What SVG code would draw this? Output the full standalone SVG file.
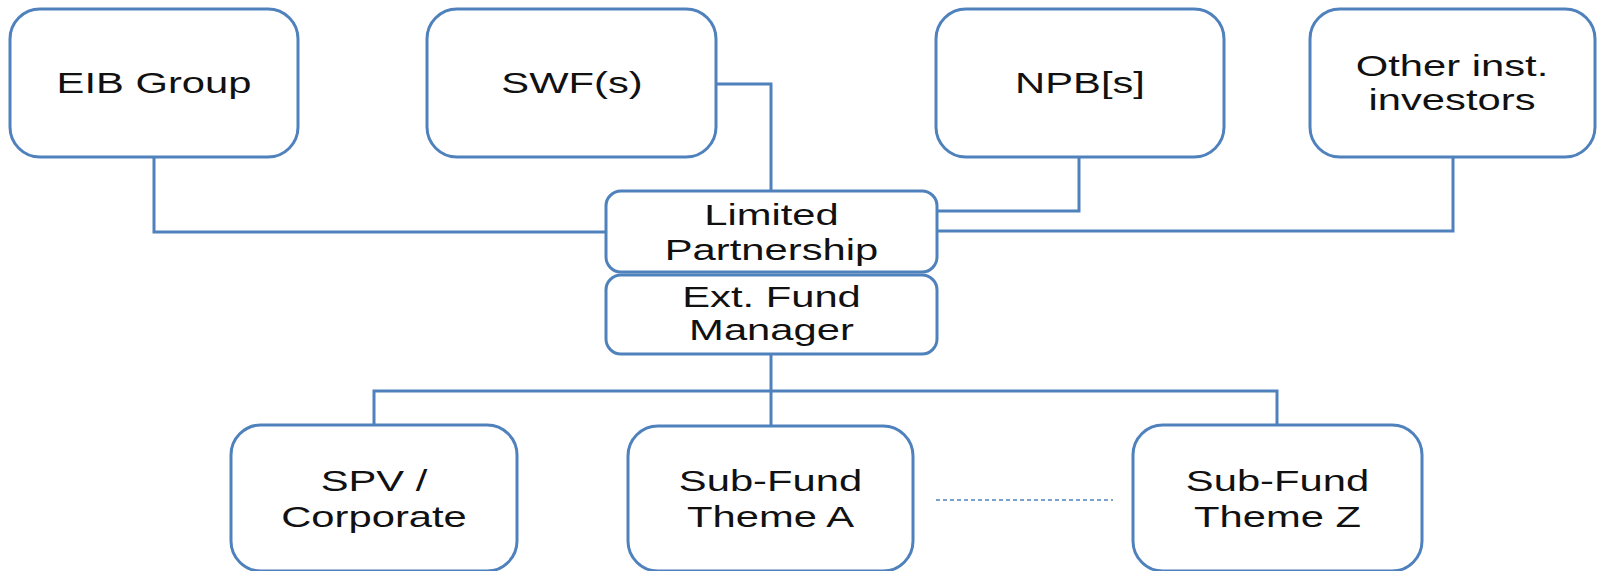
<svg xmlns="http://www.w3.org/2000/svg" width="1597" height="571" viewBox="0 0 1597 571">
<style>
.box{fill:#fff;stroke:#4F81BD;stroke-width:3}
.lbl{font-family:"Liberation Sans",Arial,sans-serif;font-size:29px;fill:#111;text-anchor:middle}
.conn{fill:none;stroke:#4F81BD;stroke-width:3}
.dash{fill:none;stroke:#4F81BD;stroke-width:1.3;stroke-dasharray:4 3}
</style>
<rect width="1597" height="571" fill="#fff"/>
<g id="connectors">
<path class="conn" d="M154 157 V232 H606"/>
<path class="conn" d="M716 84 H771 V191"/>
<path class="conn" d="M1079 157 V211 H937"/>
<path class="conn" d="M1453 157 V231 H937"/>
<path class="conn" d="M771 354 V426"/>
<path class="conn" d="M374 425 V391 H1277 V425"/>
<path class="dash" d="M936 500 H1113"/>
</g>
<g id="eib">
<rect class="box" x="10" y="9" width="288" height="148" rx="30"/>
<text class="lbl" transform="translate(154,93) scale(1.44,1)">EIB Group</text>
</g>
<g id="swf">
<rect class="box" x="427" y="9" width="289" height="148" rx="30"/>
<text class="lbl" transform="translate(572,93) scale(1.44,1)">SWF(s)</text>
</g>
<g id="npb">
<rect class="box" x="936" y="9" width="288" height="148" rx="30"/>
<text class="lbl" transform="translate(1080,93) scale(1.44,1)">NPB[s]</text>
</g>
<g id="other">
<rect class="box" x="1310" y="9" width="285" height="148" rx="30"/>
<text class="lbl" transform="translate(1452,76) scale(1.44,1)">Other inst.</text>
<text class="lbl" transform="translate(1452,110) scale(1.44,1)">investors</text>
</g>
<g id="lp">
<rect class="box" x="606" y="191" width="331" height="81" rx="15"/>
<text class="lbl" transform="translate(771.5,225) scale(1.44,1)">Limited</text>
<text class="lbl" transform="translate(771.5,260) scale(1.44,1)">Partnership</text>
</g>
<g id="efm">
<rect class="box" x="606" y="275" width="331" height="79" rx="15"/>
<text class="lbl" transform="translate(771.5,307) scale(1.44,1)">Ext. Fund</text>
<text class="lbl" transform="translate(771.5,340) scale(1.44,1)">Manager</text>
</g>
<g id="spv">
<rect class="box" x="231" y="425" width="286" height="146" rx="30"/>
<text class="lbl" transform="translate(374,491) scale(1.44,1)">SPV /</text>
<text class="lbl" transform="translate(374,527) scale(1.44,1)">Corporate</text>
</g>
<g id="subA">
<rect class="box" x="628" y="426" width="285" height="145" rx="30"/>
<text class="lbl" transform="translate(770.5,491) scale(1.44,1)">Sub-Fund</text>
<text class="lbl" transform="translate(770.5,527) scale(1.44,1)">Theme A</text>
</g>
<g id="subZ">
<rect class="box" x="1133" y="425" width="289" height="146" rx="30"/>
<text class="lbl" transform="translate(1277.5,491) scale(1.44,1)">Sub-Fund</text>
<text class="lbl" transform="translate(1277.5,527) scale(1.44,1)">Theme Z</text>
</g>
</svg>
